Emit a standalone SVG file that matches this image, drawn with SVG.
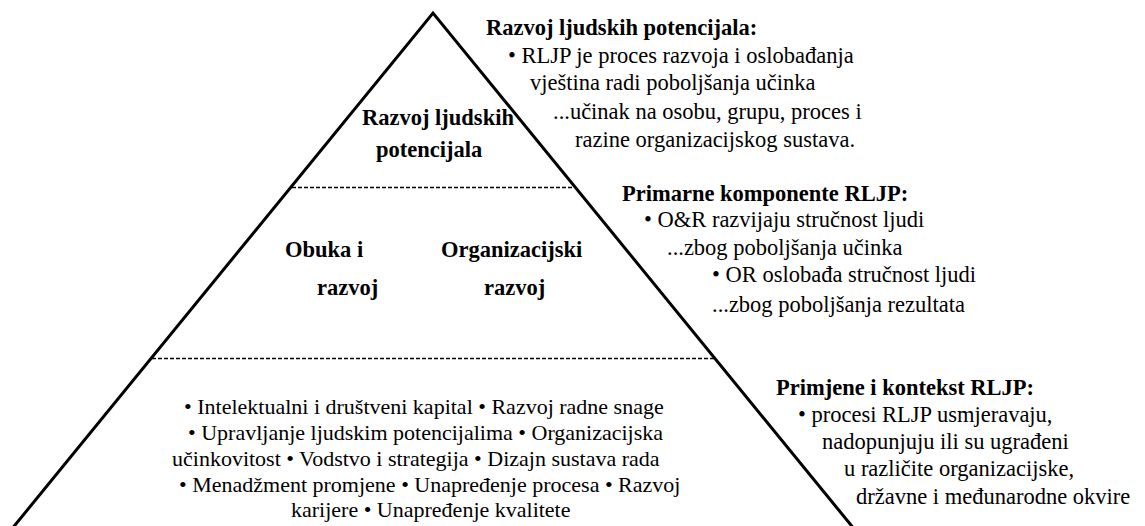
<svg xmlns="http://www.w3.org/2000/svg" width="1145" height="526" viewBox="0 0 1145 526">
<style>
  text { font-family: 'Liberation Serif', 'Times New Roman', serif; font-size: 22.5px; fill: #000; }
  .b { font-weight: bold; }
  .s { font-size: 22px; }
  .edge { fill: none; stroke: #000; stroke-width: 3; stroke-linejoin: miter; }
  .dash { fill: none; stroke: #000; stroke-width: 1.4; stroke-dasharray: 4 2; }
</style>
<rect width="1145" height="526" fill="#fff"/>
<g id="pyramid">
  <polyline class="edge" points="11,530 433,13 855,530"/>
  <line class="dash" x1="292" y1="187.5" x2="574" y2="187.5"/>
  <line class="dash" x1="152" y1="358.5" x2="714" y2="358.5"/>
</g>
<g id="tier-top">
  <text class="b" x="362" y="125">Razvoj ljudskih</text>
  <text class="b" x="376" y="157">potencijala</text>
</g>
<g id="tier-middle">
  <text class="b" x="285" y="257">Obuka i</text>
  <text class="b" x="317" y="295">razvoj</text>
  <text class="b" x="441" y="257">Organizacijski</text>
  <text class="b" x="484" y="295">razvoj</text>
</g>
<g id="tier-bottom">
  <text class="s" x="184" y="414">• Intelektualni i društveni kapital • Razvoj radne snage</text>
  <text class="s" x="188" y="440">• Upravljanje ljudskim potencijalima • Organizacijska</text>
  <text class="s" x="172" y="466">učinkovitost • Vodstvo i strategija • Dizajn sustava rada</text>
  <text class="s" x="179" y="492">• Menadžment promjene • Unapređenje procesa • Razvoj</text>
  <text class="s" x="291" y="517">karijere • Unapređenje kvalitete</text>
</g>
<g id="note-rljp">
  <text class="b" x="486" y="35">Razvoj ljudskih potencijala:</text>
  <text x="508" y="63">• RLJP je proces razvoja i oslobađanja</text>
  <text x="530" y="90">vještina radi poboljšanja učinka</text>
  <text x="553" y="119">...učinak na osobu, grupu, proces i</text>
  <text x="575" y="147">razine organizacijskog sustava.</text>
</g>
<g id="note-komponente">
  <text class="b" x="622" y="201">Primarne komponente RLJP:</text>
  <text x="644" y="227">• O&amp;R razvijaju stručnost ljudi</text>
  <text x="667" y="255">...zbog poboljšanja učinka</text>
  <text x="712" y="282">• OR oslobađa stručnost ljudi</text>
  <text x="712" y="312">...zbog poboljšanja rezultata</text>
</g>
<g id="note-primjene">
  <text class="b" x="776" y="395">Primjene i kontekst RLJP:</text>
  <text x="798" y="422">• procesi RLJP usmjeravaju,</text>
  <text x="822" y="449">nadopunjuju ili su ugrađeni</text>
  <text x="844" y="476">u različite organizacijske,</text>
  <text x="856" y="504">državne i međunarodne okvire</text>
</g>
</svg>
